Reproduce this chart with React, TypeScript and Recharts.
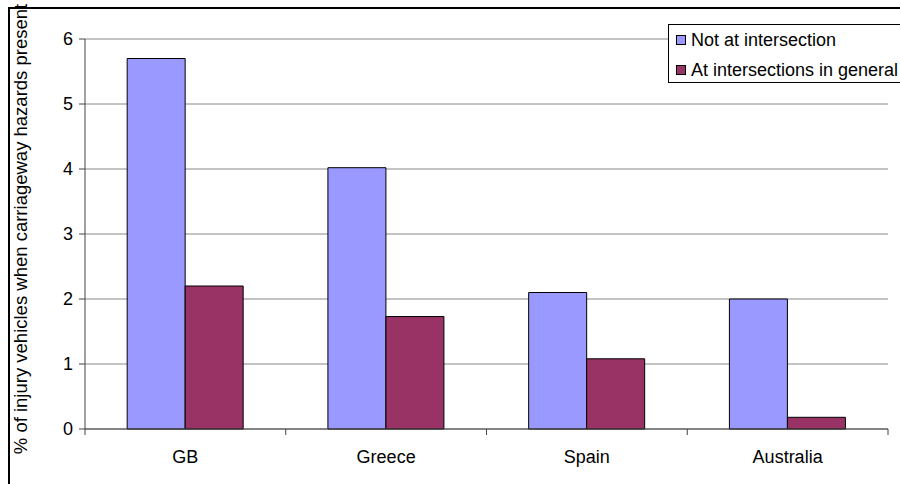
import React from "react";
import { BarChart, Bar, XAxis, YAxis, CartesianGrid } from "recharts";

const countries = ["GB", "Greece", "Spain", "Australia"];
const notAtIntersection = [5.7, 4.02, 2.1, 2.0];
const atIntersections = [2.2, 1.73, 1.08, 0.18];
const yTicks = [0, 1, 2, 3, 4, 5, 6];

const seriesNames = ["Not at intersection", "At intersections in general"];
const seriesColors = ["#9999FF", "#993366"];

const data = countries.map((c, i) => ({
  country: c,
  notAt: notAtIntersection[i],
  at: atIntersections[i],
}));

const FONT = "Arial, 'Liberation Sans', sans-serif";
const FS = 18;

const CategoryTick = (props: any) => {
  const { x, y, payload, index, visibleTicksCount } = props;
  const half = payload && payload.offset ? payload.offset : 100.4;
  const isLast = index === (visibleTicksCount ?? countries.length) - 1;
  return (
    <g>
      <line x1={x - half} x2={x - half} y1={y} y2={y + 6} stroke="#444" />
      {isLast && <line x1={x + half} x2={x + half} y1={y} y2={y + 6} stroke="#444" />}
      <text x={x} y={y + 34} textAnchor="middle" fontSize={FS} fontFamily={FONT} fill="#000">
        {payload.value}
      </text>
    </g>
  );
};

const LegendBox = () => (
  <div
    style={{
      position: "absolute",
      left: 668,
      top: 24,
      border: "1px solid #000",
      background: "#fff",
      width: 260,
      height: 59,
      boxSizing: "border-box",
      fontFamily: FONT,
      fontSize: FS,
      paddingLeft: 7,
      paddingTop: 2,
    }}
  >
    {seriesNames.map((n, i) => (
      <div key={n} style={{ display: "flex", alignItems: "center", height: 26, marginBottom: i === 0 ? 4 : 0 }}>
        <span
          style={{
            display: "inline-block",
            width: 8,
            height: 8,
            background: seriesColors[i],
            border: "1px solid #000",
            marginRight: 5,
          }}
        />
        <span style={{ whiteSpace: "nowrap" }}>{n}</span>
      </div>
    ))}
  </div>
);

export default function App() {
  return (
    <div
      style={{
        position: "fixed",
        left: 0,
        top: 0,
        width: 900,
        height: 484,
        overflow: "hidden",
        background: "#fff",
      }}
    >
      <div
        style={{
          position: "absolute",
          left: 8,
          top: 7,
          width: 1000,
          height: 600,
          borderLeft: "2px solid #000",
          borderTop: "2px solid #000",
          boxSizing: "border-box",
        }}
      />
      <div style={{ position: "absolute", left: 8, top: 8 }}>
        <BarChart
          width={892}
          height={476}
          data={data}
          margin={{ top: 31, right: 12, bottom: 25, left: 37 }}
          barCategoryGap="21%"
          barGap={0}
        >
          <CartesianGrid vertical={false} stroke="#888" />
          <XAxis
            dataKey="country"
            tickLine={false}
            tickSize={0}
            tickMargin={0}
            height={30}
            axisLine={{ stroke: "#444" }}
            tick={<CategoryTick />}
            interval={0}
          />
          <YAxis
            domain={[0, 6]}
            ticks={yTicks}
            width={40}
            tickSize={6}
            tickMargin={6}
            axisLine={{ stroke: "#444" }}
            tickLine={{ stroke: "#444" }}
            tick={{ fontSize: FS, fontFamily: FONT, fill: "#000" }}
            interval={0}
          />
          <YAxis
            yAxisId="right"
            orientation="right"
            domain={[0, 6]}
            width={0}
            tick={false}
            tickLine={false}
            axisLine={{ stroke: "#888" }}
          />
          <Bar dataKey="notAt" name={seriesNames[0]} fill={seriesColors[0]} stroke="#000" strokeWidth={1} isAnimationActive={false} />
          <Bar dataKey="at" name={seriesNames[1]} fill={seriesColors[1]} stroke="#000" strokeWidth={1} isAnimationActive={false} />
        </BarChart>
      </div>
      <LegendBox />
      <svg style={{ position: "absolute", left: 0, top: 0, pointerEvents: "none" }} width={60} height={484}>
        <text
          x={27}
          y={229}
          transform="rotate(-90, 27, 229)"
          textAnchor="middle"
          fontSize={18.5}
          fontFamily={FONT}
          fill="#000"
        >
          % of injury vehicles when carriageway hazards present
        </text>
      </svg>
    </div>
  );
}
